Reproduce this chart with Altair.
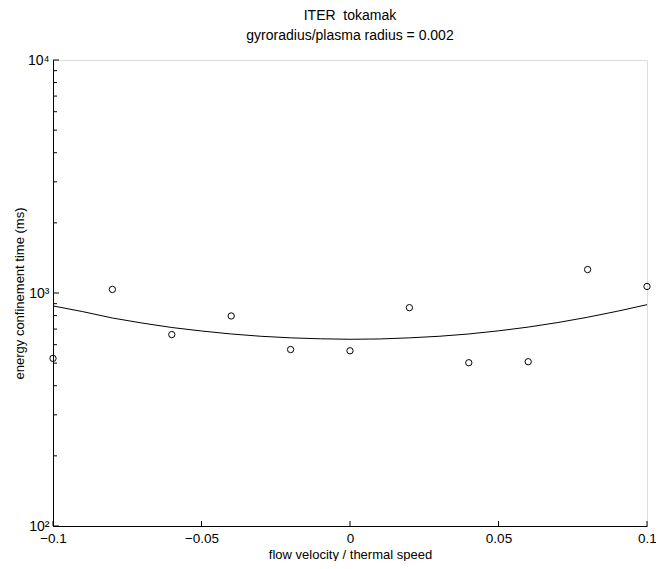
import altair as alt
import pandas as pd

# measured data (flow velocity / thermal speed vs energy confinement time, ms)
flow = [-0.10, -0.08, -0.06, -0.04, -0.02, 0.00, 0.02, 0.04, 0.06, 0.08, 0.10]
tau = [524, 1036, 663, 797, 572, 565, 865, 502, 507, 1261, 1067]

# fitted curve
fit_flow = [-0.10, -0.09, -0.08, -0.07, -0.06, -0.05, -0.04, -0.03, -0.02, -0.01, 0.00,
            0.01, 0.02, 0.03, 0.04, 0.05, 0.06, 0.07, 0.08, 0.09, 0.10]
fit_tau = [880, 832, 781, 743, 711, 687, 667, 652, 642, 636, 633,
           635, 642, 652, 667, 688, 714, 747, 787, 835, 891]

# axis ticks
x_ticks = [-0.1, -0.05, 0.0, 0.05, 0.1]
y_major = [100, 1000, 10000]
y_minor = [200, 300, 400, 500, 600, 700, 800, 900,
           2000, 3000, 4000, 5000, 6000, 7000, 8000, 9000]

W, H = 594, 466
FONT = "Liberation Sans"

pts = pd.DataFrame({"flow": flow, "tau": tau})
fit = pd.DataFrame({"flow": fit_flow, "tau": fit_tau})
xt = pd.DataFrame({"flow": x_ticks})
ymaj = pd.DataFrame({"tau": y_major})
ymin = pd.DataFrame({"tau": y_minor})

xscale = alt.Scale(domain=[-0.1, 0.1], nice=False, zero=False)
yscale = alt.Scale(type="log", domain=[100, 10000], nice=False)

xaxis = alt.Axis(
    title="flow velocity / thermal speed", values=x_ticks, format="g",
    tickSize=0, labelPadding=5, grid=False, domainColor="black",
    labelFlush=False, labelOverlap=False,
    labelColor="black", titleColor="black", labelFontSize=13.5, titleFontSize=13,
    titleFontWeight="normal", titlePadding=4, labelFont=FONT, titleFont=FONT,
)
yaxis = alt.Axis(
    title="energy confinement time (ms)", values=y_major,
    labelExpr="datum.value == 100 ? '10\u00b2' : datum.value == 1000 ? '10\u00b3' : '10\u2074'",
    tickSize=0, labelPadding=4, grid=False, domainColor="black",
    labelFlush=False, labelOverlap=False,
    labelColor="black", titleColor="black", labelFontSize=14, titleFontSize=13,
    titleFontWeight="normal", titlePadding=1, labelFont=FONT, titleFont=FONT,
)

X = alt.X("flow:Q", scale=xscale, axis=xaxis)
Y = alt.Y("tau:Q", scale=yscale, axis=yaxis)

line = alt.Chart(fit).mark_line(color="black", strokeWidth=1, clip=False).encode(x=X, y=Y)
points = alt.Chart(pts).mark_point(
    shape="circle", filled=False, color="black", size=40, strokeWidth=1, opacity=1
).encode(x=X, y=Y)
xtick_marks = alt.Chart(xt).mark_rule(color="black", strokeWidth=1).encode(
    x=X, y=alt.value(H), y2=alt.value(H - 5)
)
ymaj_marks = alt.Chart(ymaj).mark_rule(color="black", strokeWidth=1).encode(
    y=Y, x=alt.value(0), x2=alt.value(6)
)
ymin_marks = alt.Chart(ymin).mark_rule(color="black", strokeWidth=1).encode(
    y=alt.Y("tau:Q", scale=yscale, axis=yaxis), x=alt.value(0), x2=alt.value(4)
)

chart = alt.layer(line, points, xtick_marks, ymaj_marks, ymin_marks).properties(
    width=W,
    height=H,
    title=alt.TitleParams(
        text="ITER \u00a0tokamak",
        subtitle="gyroradius/plasma radius = 0.002",
        fontSize=14, subtitleFontSize=14, fontWeight="normal",
        font=FONT, subtitleFont=FONT, color="black", subtitleColor="black",
        anchor="middle", offset=10, subtitlePadding=6,
    ),
    autosize=alt.AutoSizeParams(type="none"),
    padding={"left": 45, "top": 52, "right": 9, "bottom": 35},
).configure_view(stroke=None).configure(background="white")

chart.save("out.html", embed_options={"renderer": "svg", "actions": False})
